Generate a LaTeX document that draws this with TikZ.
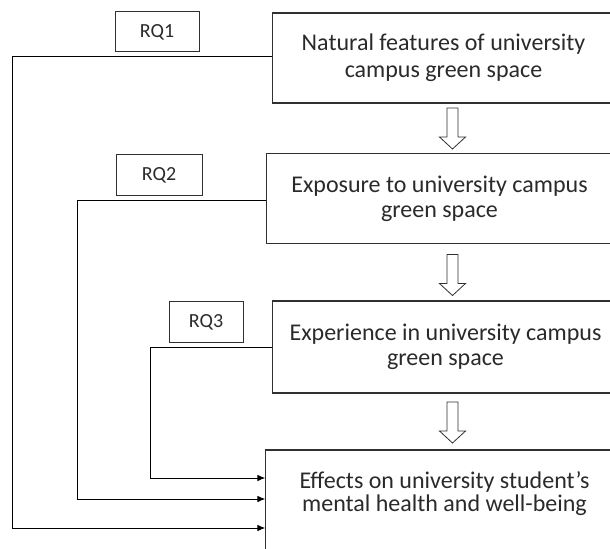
\documentclass[tikz,border=0pt]{standalone}
\usepackage{fontspec}
\setmainfont{Carlito}
\usetikzlibrary{arrows.meta}
\definecolor{txt}{HTML}{2A2A2A}
\definecolor{edge}{HTML}{303030}
\begin{document}
\begin{tikzpicture}[x=0.75pt,y=-0.75pt,
  mainbox/.style={draw=edge,line width=0.8pt,rectangle,inner sep=0pt,align=center,
    text=txt,font=\fontsize{18}{19}\selectfont},
  rqbox/.style={draw=edge,line width=0.75pt,rectangle,inner sep=0pt,
    minimum width=63pt,minimum height=30pt,text=txt,font=\fontsize{15}{18}\selectfont},
  conn/.style={draw=black,line width=0.75pt},
  hollowdown/.pic={\draw[draw=edge,fill=white,line width=0.6pt]
    (-5.5,-20.5) -- (5.5,-20.5) -- (5.5,8.5) -- (13,8.5) -- (0,20.5)
    -- (-13,8.5) -- (-5.5,8.5) -- cycle;},
  tip/.style={-{Latex[length=6pt,width=5pt]}}
]
\useasboundingbox (0,0) rectangle (610,549);
\clip (0,0) rectangle (610,549);

% main boxes
\node[mainbox,minimum width=257pt,minimum height=67.5pt,
  font=\fontsize{18}{20.5}\selectfont] (b1) at (443.5,58)
  {Natural features of university\\campus green space};
\node[mainbox,minimum width=259pt,minimum height=67pt] (b2) at (439.5,198.5)
  {Exposure to university campus\\green space};
\node[mainbox,minimum width=259pt,minimum height=69pt] (b3) at (445.5,347)
  {Experience in university campus\\green space};
\node[mainbox,minimum width=268pt,minimum height=75pt,
  font=\fontsize{18}{17.5}\selectfont] (b4) at (444.5,500)
  {Effects on university student's\\mental health and well-being\rule[-13pt]{0pt}{0pt}};

% hollow arrows
\pic at (452.5,128.5) {hollowdown};
\pic at (452.5,275) {hollowdown};
\pic at (452.5,422.5) {hollowdown};

% RQ labels
\node[rqbox] (rq1) at (157,32) {RQ1};
\node[rqbox,minimum width=64.5pt] (rq2) at (159,175) {RQ2};
\node[rqbox,minimum width=55.5pt,minimum height=30.5pt] (rq3) at (206,322) {RQ3};

% connectors
\coordinate (c1) at (12,57);
\coordinate (c2) at (77,200);
\coordinate (c3) at (150,347);
\draw[conn,tip] (b1.west |- c1) -- (c1) |- (b4.west |- 0,528);
\draw[conn,tip] (b2.west |- c2) -- (c2) |- (b4.west |- 0,499);
\draw[conn,tip] (b3.west) -- (c3) |- (b4.west |- 0,478);
\end{tikzpicture}
\end{document}
